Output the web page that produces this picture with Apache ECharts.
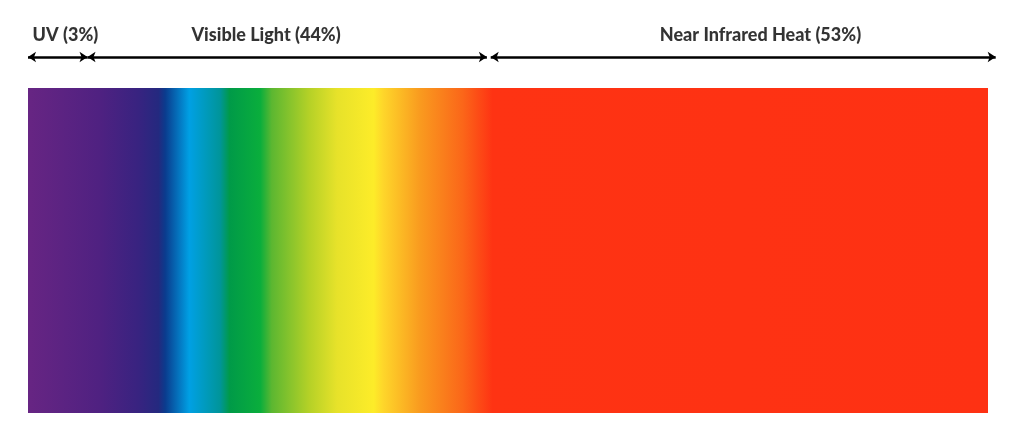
<!DOCTYPE html>
<html>
<head>
<meta charset="utf-8">
<style>
  html, body { margin: 0; padding: 0; background: #fff; }
  #chart { width: 1024px; height: 447px; }
</style>
<script src="https://cdn.jsdelivr.net/npm/echarts@6/dist/echarts.min.js"></script>
</head>
<body>
<div id="chart"></div>
<script>
// spectrum bands: name, arrow span (in % of bar length), label centre
var bandNames = ['UV (3%)', 'Visible Light (44%)', 'Near Infrared Heat (53%)']
var bandStart = [0, 6.2, 48.2]
var bandEnd = [6.2, 47.8, 100.8]
var labelCentre = [3.9, 24.8, 76.3]

// colour stops of the spectrum bar (offset 0..1 along the bar)
var stopOffsets = [0, 0.075, 0.115, 0.136, 0.143, 0.168, 0.2, 0.21, 0.242, 0.254, 0.293, 0.322, 0.36, 0.37, 0.408, 0.453, 0.484, 1]
var stopColors = ['#672583', '#4f2181', '#382380', '#24297f', '#0a3c8e', '#00a0e4', '#00959a', '#009a48', '#0aae3c', '#5cb731', '#b5d127', '#e7e22a', '#fdec29', '#fed62a', '#f99b1f', '#fb6619', '#fe3313', '#fe3113']

var barValue = [100]

var chart = echarts.init(document.getElementById('chart'))

var stops = stopOffsets.map(function (o, i) {
  return { offset: o, color: stopColors[i] }
})

var arrowLevel = 31
var labelLevel = 53

option = {
  animation: false,
  grid: [
    { left: 28, right: 36, top: 88, bottom: 34 },
    { left: 28, right: 36, top: 0, height: 88 }
  ],
  xAxis: [
    { type: 'value', min: 0, max: 100, show: false, gridIndex: 0 },
    { type: 'value', min: 0, max: 100, show: false, gridIndex: 1 }
  ],
  yAxis: [
    { type: 'category', data: ['spectrum'], show: false, gridIndex: 0 },
    { type: 'value', min: 0, max: 88, show: false, gridIndex: 1 }
  ],
  series: [
    {
      type: 'bar',
      data: barValue,
      barWidth: '100%',
      silent: true,
      itemStyle: {
        color: new echarts.graphic.LinearGradient(0, 0, 1, 0, stops)
      }
    },
    {
      type: 'lines',
      coordinateSystem: 'cartesian2d',
      xAxisIndex: 1,
      yAxisIndex: 1,
      clip: false,
      silent: true,
      symbol: ['arrow', 'arrow'],
      symbolSize: [8, 8],
      lineStyle: { color: '#000', width: 2.5, opacity: 1, curveness: 0 },
      data: bandNames.map(function (n, i) {
        return { name: n, coords: [[bandStart[i], arrowLevel], [bandEnd[i], arrowLevel]] }
      })
    },
    {
      type: 'scatter',
      xAxisIndex: 1,
      yAxisIndex: 1,
      symbolSize: 0,
      silent: true,
      label: {
        show: true,
        position: 'inside',
        formatter: '{b}',
        color: '#000',
        fontFamily: 'Lato',
        fontWeight: 900,
        fontSize: 18
      },
      data: bandNames.map(function (n, i) {
        return { name: n, value: [labelCentre[i], labelLevel] }
      })
    }
  ]
}

chart.setOption(option)
</script>
</body>
</html>
